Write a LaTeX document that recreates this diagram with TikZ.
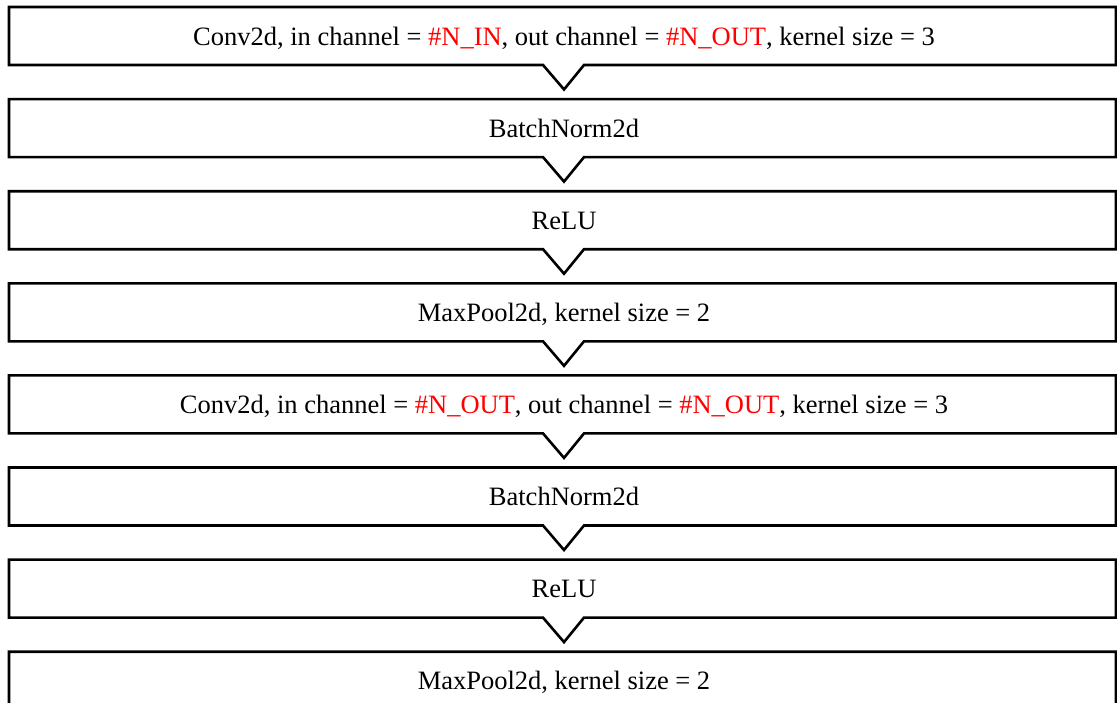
\documentclass[tikz,border=0pt]{standalone}
\usepackage{fontspec}
\setmainfont{Liberation Serif}
\definecolor{param}{RGB}{255,0,0}
\begin{document}
\begin{tikzpicture}[x=1pt,y=-1pt,
  layer/.style={draw=black,line width=2.6pt,line join=miter,fill=white},
  label/.style={font=\fontsize{26.5}{30}\selectfont,text=black,inner sep=0pt,anchor=base}]
\useasboundingbox (0,0) rectangle (1117,702);
\clip (0,0) rectangle (1117,702);
\newcommand\blockbox[3]{%
  % #1 = index, #2 = node name, #3 = text
  \pgfmathsetmacro\bt{7+92.1*#1}%
  \pgfmathsetmacro\bb{\bt+58}%
  \pgfmathsetmacro\bv{\bb+24.5}%
  \pgfmathsetmacro\bm{\bt+38}%
  \draw[layer] (9,\bt) -- (1116,\bt) -- (1116,\bb) -- (584,\bb) -- (564,\bv)
     -- (543,\bb) -- (9,\bb) -- cycle;
  \node[label] (#2) at (564,\bm) {#3};%
}
\blockbox{0}{conva}{Conv2d, in channel = \textcolor{param}{\#N\_IN}, out channel = \textcolor{param}{\#N\_OUT}, kernel size = 3}
\blockbox{1}{bna}{BatchNorm2d}
\blockbox{2}{relua}{ReLU}
\blockbox{3}{poola}{MaxPool2d, kernel size = 2}
\blockbox{4}{convb}{Conv2d, in channel = \textcolor{param}{\#N\_OUT}, out channel = \textcolor{param}{\#N\_OUT}, kernel size = 3}
\blockbox{5}{bnb}{BatchNorm2d}
\blockbox{6}{relub}{ReLU}
\blockbox{7}{poolb}{MaxPool2d, kernel size = 2}
\end{tikzpicture}
\end{document}
